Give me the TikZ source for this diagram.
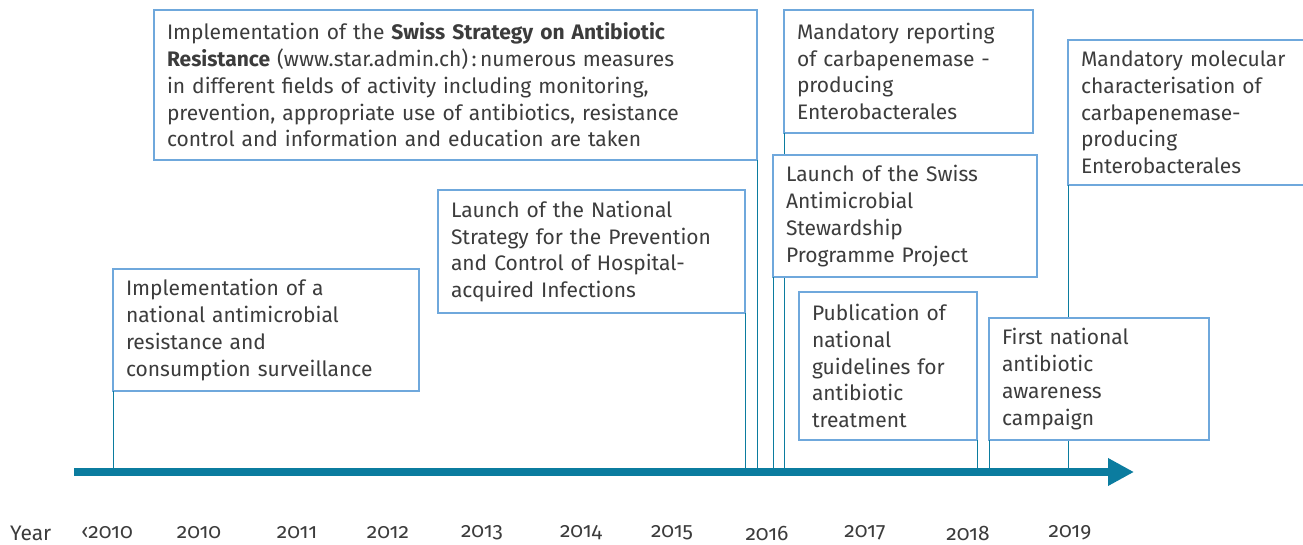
\documentclass[tikz,border=0pt]{standalone}
\usepackage{fontspec}
\setmainfont{Fira Sans}
\newfontfamily\yearfont{Fira Sans}[Numbers=OldStyle]
\usetikzlibrary{arrows.meta}
\definecolor{teal}{HTML}{0B7C9F}
\definecolor{boxblue}{HTML}{6FA8DC}
\definecolor{txt}{HTML}{3C3C3C}
\tikzset{
  evbox/.style={draw=boxblue, line width=1.4pt, fill=white, anchor=north west,
    inner xsep=13pt, inner ysep=0pt, outer sep=0pt, align=left, text=txt,
    font=\fontsize{21}{26.7}\selectfont},
  conn/.style={draw=teal, line width=1pt},
  yearlbl/.style={text=txt, font=\yearfont\fontsize{21}{23}\selectfont, inner sep=0pt}
}
\begin{document}
\begin{tikzpicture}[x=1pt,y=-1pt]
\useasboundingbox[fill=white] (0,0) rectangle (1303,545);
% axis
\coordinate (axisL) at (74,472);
\coordinate (axisR) at (1134,472);
\path
  (113,269) coordinate (p1)
  (438,190) coordinate (p2)
  (154,10) coordinate (p3)
  (784,10) coordinate (p4)
  (773,155) coordinate (p5)
  (1068,40) coordinate (p6)
  (799,292) coordinate (p7)
  (989,318) coordinate (p8);
\node[evbox, text width=280pt, minimum height=122pt] (b1) at (p1)
  {Implementation of a\\ national antimicrobial\\ resistance and\\ consumption surveillance};
\node[evbox, text width=281pt, minimum height=123pt] (b2) at (p2)
  {Launch of the National\\ Strategy for the Prevention\\ and Control of Hospital-\\ acquired Infections};
\node[evbox, text width=577pt, minimum height=150pt] (b3) at (p3)
  {Implementation of the \textbf{Swiss Strategy on Antibiotic}\\ \textbf{Resistance} (www.star.admin.ch)\,:\,numerous measures\\ in different fields of activity including monitoring,\\ prevention, appropriate use of antibiotics, resistance\\ control and information and education are taken};
\node[evbox, text width=223pt, minimum height=123pt] (b4) at (p4)
  {Mandatory reporting\\ of carbapenemase -\\ producing\\ Enterobacterales};
% connectors
\draw[conn] (b1.south west) -- (b1.south west |- axisL);
\draw[conn] (b2.south east) -- (b2.south east |- axisL);
\draw[conn] (b3.south east) -- (b3.south east |- axisL);
\draw[conn] (b4.south west) -- (b4.south west |- axisL);
\node[evbox, text width=238pt, minimum height=122pt] (b5) at (p5)
  {Launch of the Swiss\\ Antimicrobial\\ Stewardship\\ Programme Project};
\draw[conn] (b5.south west) -- (b5.south west |- axisL);
\node[evbox, text width=226pt, minimum height=145pt] (b6) at (p6)
  {Mandatory molecular\\ characterisation of\\ carbapenemase-\\ producing\\ Enterobacterales};
\draw[conn] (b6.south west) -- (b6.south west |- axisL);
\node[evbox, text width=152pt, minimum height=148pt] (b7) at (p7)
  {Publication of\\ national\\ guidelines for\\ antibiotic\\ treatment};
\draw[conn] (b7.south east) -- (b7.south east |- axisL);
\node[evbox, text width=194pt, minimum height=122pt] (b8) at (p8)
  {First national\\ antibiotic\\ awareness\\ campaign};
\draw[conn] (b8.south west) -- (b8.south west |- axisL);
% axis arrow
\draw[teal, line width=8pt, -{Triangle[length=26pt,width=26pt]}] (axisL) -- (axisR);
% years
\node[yearlbl, anchor=west] (yr) at (10,533) {Year};
\node[yearlbl] (y0) at (107,533) {‹2010};
\node[yearlbl] (y1) at (199,533) {2010};
\node[yearlbl] (y2) at (297,533) {2011};
\node[yearlbl] (y3) at (388,533) {2012};
\node[yearlbl] (y4) at (482,533) {2013};
\node[yearlbl] (y5) at (581,533) {2014};
\node[yearlbl] (y6) at (672,533) {2015};
\node[yearlbl] (y7) at (767,533) {2016};
\node[yearlbl] (y8) at (865,533) {2017};
\node[yearlbl] (y9) at (968,533) {2018};
\node[yearlbl] (y10) at (1070,533) {2019};
\end{tikzpicture}
\end{document}
